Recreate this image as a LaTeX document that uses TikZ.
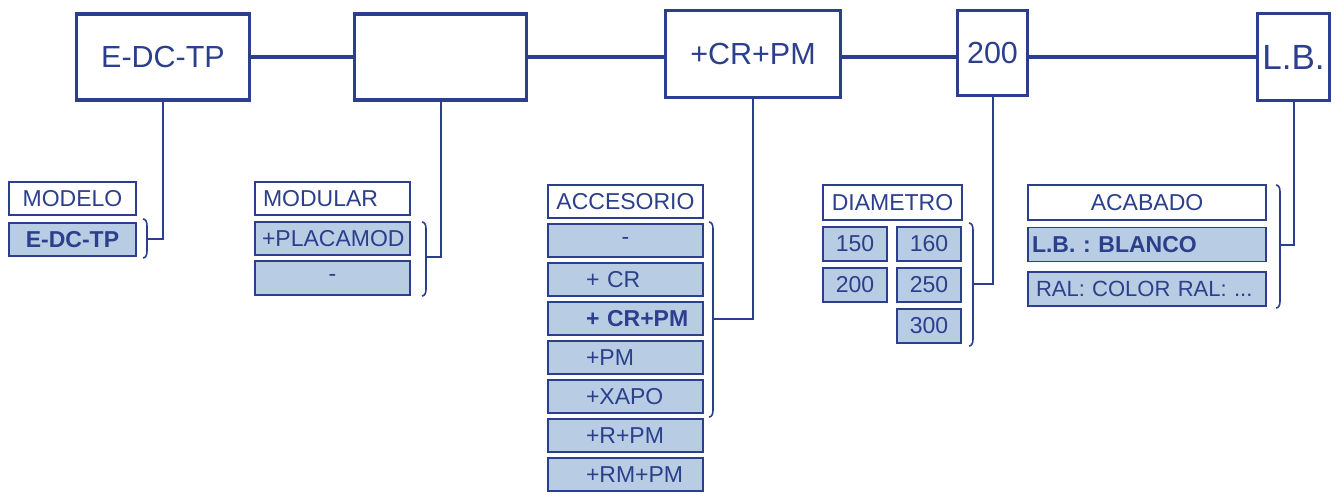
\documentclass[tikz,border=0pt]{standalone}
\usepackage{fontspec}
\setmainfont{Liberation Sans}
\frenchspacing
\definecolor{dblue}{HTML}{2B3F8C}
\definecolor{lblue}{HTML}{B8CCE4}
\tikzset{
  topbox/.style = {draw=dblue, line width=3.4pt, text=dblue, inner sep=0pt, font=\fontsize{30.5}{36}\selectfont},
  head/.style = {draw=dblue, line width=1.8pt, fill=white, text=dblue, inner sep=0pt, minimum height=33pt, font=\fontsize{23}{28}\selectfont},
  opt/.style = {head, fill=lblue, minimum height=33.5pt},
  lhead/.style = {head, align=left, text width=#1},
  lopt/.style = {opt, align=left, text width=#1},
  bold/.style = {font=\fontsize{23}{28}\selectfont\bfseries},
  link/.style = {draw=dblue, line width=3.6pt},
  drop/.style = {draw=dblue, line width=2pt},
  brk/.style = {draw=dblue, line width=1.6pt}
}
\begin{document}
\begin{tikzpicture}[x=1pt, y=-1pt]
\useasboundingbox (0,0) rectangle (1337,493);
\node [topbox, minimum width=173pt, minimum height=86pt] (tmodelo) at (163,57) {E-DC-TP};
\node [topbox, minimum width=172pt, minimum height=86pt] (tmodular) at (440.5,57) {};
\node [topbox, minimum width=175pt, minimum height=87pt] (tacc) at (753,54) {+CR+PM};
\node [topbox, minimum width=70pt, minimum height=85pt] (tdiam) at (992.5,53) {200};
\node [topbox, minimum width=72pt, minimum height=87pt, font=\fontsize{35}{40}\selectfont] (tacab) at (1293.5,57) {L.B.};
\draw [link] (tmodelo.east) -- (tmodular.west);
\draw [link] (tmodular.east) -- (tmodular.east -| tacc.west);
\draw [link] (tacc.east |- tmodelo.east) -- (tdiam.west |- tmodelo.east);
\draw [link] (tdiam.east |- tmodelo.east) -- (tacab.west |- tmodelo.east);

\node [head, minimum width=127pt] (hmodelo) at (72.5,198.5) {MODELO};
\node [opt, bold, minimum width=127pt] (omodelo) at (72.5,239.5) {E-DC-TP};
\draw [brk] (143,219) to[out=0,in=90] (147,226) -- (147,251) to[out=-90,in=0] (143,258);
\coordinate (kmodelo) at (147,239);
\draw [drop] (tmodelo.south) |- (kmodelo);

\node [lhead=155pt] (hmodular) at (332.5,198.5) {\hspace*{8pt}MODULAR};
\node [lopt=155pt] (placamod) at (332.5,238.5) {\hspace*{7pt}+PLACAMOD};
\node [opt, minimum width=155pt] (nomod) at (332.5,278) {-};
\draw [brk] (422,222) to[out=0,in=90] (426,229) -- (426,289) to[out=-90,in=0] (422,296);
\coordinate (kmodular) at (426,257);
\draw [drop] (tmodular.south) |- (kmodular);

\node [head, minimum width=155pt] (hacc) at (625.5,201.5) {ACCESORIO};
\node [opt, minimum width=155pt] (acc0) at (625.5,240.5) {-};
\node [lopt=155pt] (acc1) at (625.5,279.5) {\hspace*{38pt}+ CR};
\node [lopt=155pt, bold] (acc2) at (625.5,318.5) {\hspace*{38pt}+ CR+PM};
\node [lopt=155pt] (acc3) at (625.5,357.5) {\hspace*{38pt}+PM};
\node [lopt=155pt] (acc4) at (625.5,396.5) {\hspace*{38pt}+XAPO};
\node [lopt=155pt] (acc5) at (625.5,435.5) {\hspace*{38pt}+R+PM};
\node [lopt=155pt] (acc6) at (625.5,474.5) {\hspace*{38pt}+RM+PM};
\draw [brk] (709,222) to[out=0,in=90] (713,229) -- (713,410) to[out=-90,in=0] (709,417);
\coordinate (kacc) at (713,319);
\draw [drop] (tacc.south) |- (kacc);

\node [head, minimum width=139pt, minimum height=35pt] (hdiam) at (892.5,202.5) {DIAMETRO};
\node [opt, minimum width=64pt, minimum height=34.5pt] (d150) at (855,244) {150};
\node [opt, minimum width=64pt, minimum height=34.5pt] (d160) at (929,244) {160};
\node [opt, minimum width=64pt, minimum height=34.5pt] (d200) at (855,285) {200};
\node [opt, minimum width=64pt, minimum height=34.5pt] (d250) at (929,285) {250};
\node [opt, minimum width=64pt, minimum height=34.5pt] (d300) at (929,326) {300};
\draw [brk] (969,223) to[out=0,in=90] (973,230) -- (973,339) to[out=-90,in=0] (969,346);
\coordinate (kdiam) at (973,284);
\draw [drop] (tdiam.south) |- (kdiam);

\node [head, minimum width=238pt, minimum height=35pt] (hacab) at (1147,202.5) {ACABADO};
\node [lopt=238pt, bold, minimum height=34pt] (blanco) at (1147,244.5) {\hspace*{4pt}L.B. : BLANCO};
\node [lopt=238pt, minimum height=34.5pt, font=\fontsize{22}{26}\selectfont] (ral) at (1147,289) {\hspace*{8pt}RAL: COLOR RAL: ...};
\draw [brk] (1276,185) to[out=0,in=90] (1280,192) -- (1280,301) to[out=-90,in=0] (1276,308);
\coordinate (kacab) at (1280,245);
\draw [drop] (tacab.south) |- (kacab);
\end{tikzpicture}
\end{document}
